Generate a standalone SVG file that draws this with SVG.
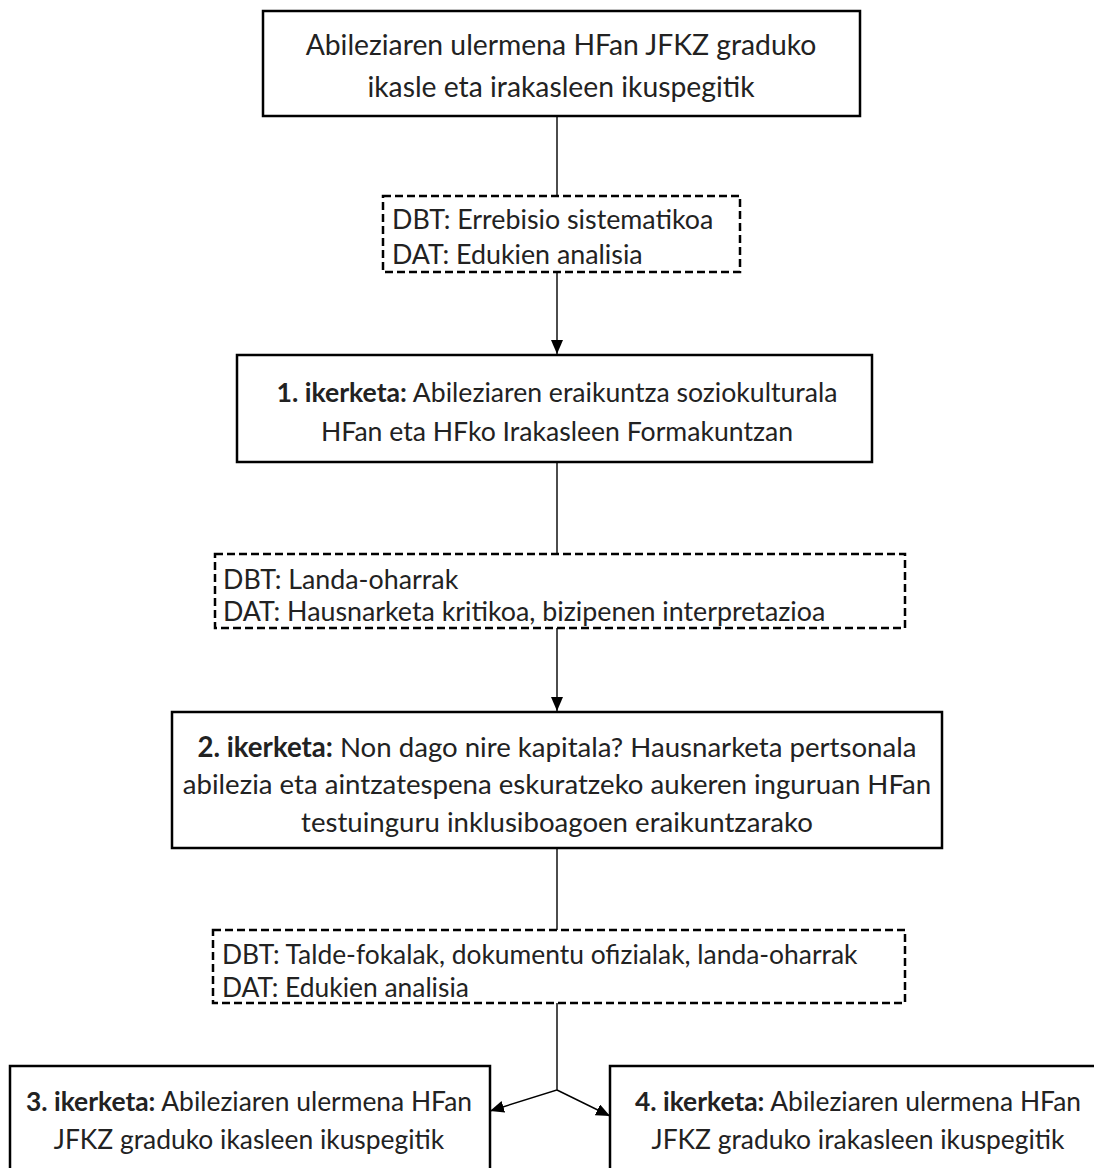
<svg xmlns="http://www.w3.org/2000/svg" width="1094" height="1168" viewBox="0 0 1094 1168">
<defs>
<style>
.box{fill:#fff;stroke:#000;stroke-width:2.5}
.dbox{fill:#fff;stroke:#000;stroke-width:2.5;stroke-dasharray:8 4}
.t{font-family:Lato,"Liberation Sans",sans-serif;fill:#222}
.c{text-anchor:middle}
.b{font-weight:bold}
.ln{fill:none;stroke:#000;stroke-width:1.4}
</style>
<marker id="ah" viewBox="0 0 14 12" refX="14" refY="6" markerWidth="14" markerHeight="12" markerUnits="userSpaceOnUse" orient="auto">
<path d="M0,0 L14,6 L0,12 Z" fill="#000"/>
</marker>
</defs>
<rect width="1094" height="1168" fill="#fff"/>
<g id="connectors">
<line class="ln" x1="557" y1="116" x2="557" y2="196"/>
<line class="ln" x1="557" y1="272" x2="557" y2="354" marker-end="url(#ah)"/>
<line class="ln" x1="557" y1="462" x2="557" y2="554"/>
<line class="ln" x1="557" y1="628" x2="557" y2="711" marker-end="url(#ah)"/>
<line class="ln" x1="557" y1="848" x2="557" y2="930"/>
<polyline class="ln" points="557,1003 557,1090 490,1111" marker-end="url(#ah)"/>
<line class="ln" x1="557" y1="1090" x2="610" y2="1116" marker-end="url(#ah)"/>
</g>
<g id="top">
<rect class="box" x="263" y="11" width="597" height="105"/>
<text class="t c" x="561" y="55" style="font-size:28.3px">Abileziaren ulermena HFan JFKZ graduko</text>
<text class="t c" x="561" y="97" style="font-size:28.3px">ikasle eta irakasleen ikuspegitik</text>
</g>
<g id="method1">
<rect class="dbox" x="383" y="196" width="357" height="76"/>
<text class="t" x="392" y="229" style="font-size:26.8px">DBT: Errebisio sistematikoa</text>
<text class="t" x="392" y="264" style="font-size:26.8px">DAT: Edukien analisia</text>
</g>
<g id="study1">
<rect class="box" x="237" y="355" width="635" height="107"/>
<text class="t c" x="557" y="402" style="font-size:26.6px"><tspan class="b">1. ikerketa:</tspan> Abileziaren eraikuntza soziokulturala</text>
<text class="t c" x="557" y="441" style="font-size:26.6px">HFan eta HFko Irakasleen Formakuntzan</text>
</g>
<g id="method2">
<rect class="dbox" x="215" y="554" width="690" height="74"/>
<text class="t" x="223" y="589" style="font-size:26.8px">DBT: Landa-oharrak</text>
<text class="t" x="223" y="621" style="font-size:26.8px">DAT: Hausnarketa kritikoa, bizipenen interpretazioa</text>
</g>
<g id="study2">
<rect class="box" x="172" y="712" width="770" height="136"/>
<text class="t c" x="557" y="757" style="font-size:27.6px"><tspan class="b">2. ikerketa:</tspan> Non dago nire kapitala? Hausnarketa pertsonala</text>
<text class="t c" x="557" y="794" style="font-size:27.6px">abilezia eta aintzatespena eskuratzeko aukeren inguruan HFan</text>
<text class="t c" x="557" y="832" style="font-size:27.6px">testuinguru inklusiboagoen eraikuntzarako</text>
</g>
<g id="method3">
<rect class="dbox" x="213" y="930" width="692" height="73"/>
<text class="t" x="222" y="964" style="font-size:26.4px">DBT: Talde-fokalak, dokumentu ofizialak, landa-oharrak</text>
<text class="t" x="222" y="997" style="font-size:26.4px">DAT: Edukien analisia</text>
</g>
<g id="study3">
<rect class="box" x="10" y="1066" width="480" height="120"/>
<text class="t c" x="249" y="1111" style="font-size:26.4px"><tspan class="b">3. ikerketa:</tspan> Abileziaren ulermena HFan</text>
<text class="t c" x="249" y="1149" style="font-size:26.4px">JFKZ graduko ikasleen ikuspegitik</text>
</g>
<g id="study4">
<rect class="box" x="610" y="1066" width="500" height="120"/>
<text class="t c" x="858" y="1111" style="font-size:26.4px"><tspan class="b">4. ikerketa:</tspan> Abileziaren ulermena HFan</text>
<text class="t c" x="858" y="1149" style="font-size:26.4px">JFKZ graduko irakasleen ikuspegitik</text>
</g>
</svg>
